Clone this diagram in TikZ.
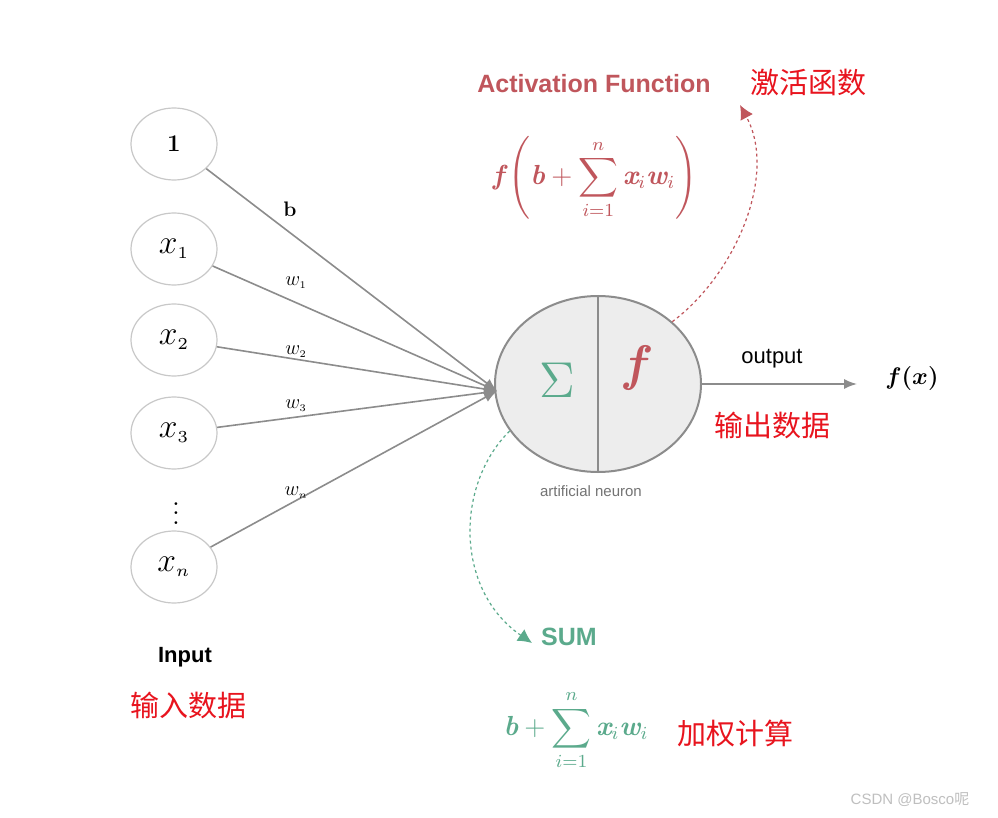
\documentclass[tikz,border=0pt]{standalone}
\usepackage{amsmath}
\usepackage{graphicx}
\usepackage{fontspec}
\newfontfamily\sansf{Liberation Sans}
\newfontfamily\cjk{Noto Sans CJK SC}
\usetikzlibrary{arrows.meta,shapes.geometric}
\newcommand\bitx[1]{\text{\bfseries\itshape #1}}
\newcommand\myscl[2]{\fontsize{12}{14}\selectfont\scalebox{#1}{#2}}
\definecolor{actred}{HTML}{C0565C}
\definecolor{sumgreen}{HTML}{5BAA8C}
\definecolor{cnred}{HTML}{E8141E}
\definecolor{edgegray}{HTML}{8C8C8C}
\definecolor{circgray}{HTML}{C8C8C8}
\tikzset{
  inp/.style={ellipse, draw=circgray, line width=1.2pt, fill=white, minimum width=86pt, minimum height=72pt, inner sep=0pt},
  wire/.style={draw=edgegray, line width=1.6pt},
  cn/.style={text=cnred, font=\cjk\fontsize{29}{30}\selectfont, inner sep=0pt},
  wlab/.style={inner sep=0pt},
  tipA/.style={-{Latex[length=13pt,width=10pt]}},
  tipB/.style={-{Latex[length=14pt,width=14pt]}},
}
\begin{document}
\begin{tikzpicture}[x=1pt,y=-1pt]
\useasboundingbox[fill=white] (0,0) rectangle (998,818);
% inputs
\node[inp] (n1) at (174,144) {\fontsize{24}{26}\selectfont\bfseries 1};
\node[inp] (x1) at (174,249) {\myscl{2.8}{$x_{\scriptscriptstyle 1}$}};
\node[inp] (x2) at (174,340) {\myscl{2.8}{$x_{\scriptscriptstyle 2}$}};
\node[inp] (x3) at (174,433) {\myscl{2.8}{$x_{\scriptscriptstyle 3}$}};
\node[inner sep=0pt] (dots) at (176,506) {\myscl{2.4}{$\boldsymbol{\vdots}$}};
\node[inp] (xn) at (174,567) {\myscl{2.8}{$x_{\scriptscriptstyle n}$}};
% neuron
\node[ellipse, draw=edgegray, line width=2pt, fill=black!7, minimum width=206pt, minimum height=176pt, inner sep=0pt] (neu) at (598,384) {};
\draw[draw=edgegray, line width=2pt] (neu.north) -- (neu.south);
\node[text=sumgreen, inner sep=0pt] (sig) at (557,380) {\myscl{4.2}{$\Sigma$}};
\node[text=actred, inner sep=0pt] (fsym) at (634,368) {\fontsize{50}{52}\selectfont\bfseries\itshape f};
\node[text=black!55, font=\sansf\fontsize{15}{16}\selectfont, inner sep=0pt] (neulab) at (591,491) {artificial neuron};
% wires
\coordinate (conv) at (497,391);
\draw[wire, tipA] (n1) -- (conv);
\draw[wire, tipA] (x1) -- (conv);
\draw[wire, tipA] (x2) -- (conv);
\draw[wire, tipA] (x3) -- (conv);
\draw[wire, tipA] (xn) -- (conv);
\node[wlab] (lb) at (290,209) {\fontsize{21}{22}\selectfont\bfseries b};
\node[wlab] (lw1) at (296,283) {\myscl{1.7}{$w_{\scriptscriptstyle 1}$}};
\node[wlab] (lw2) at (296,352) {\myscl{1.7}{$w_{\scriptscriptstyle 2}$}};
\node[wlab] (lw3) at (296,406) {\myscl{1.7}{$w_{\scriptscriptstyle 3}$}};
\node[wlab] (lwn) at (296,493) {\myscl{1.7}{$w_{\scriptscriptstyle n}$}};
% output
\node[inner sep=0pt] (fx) at (912,378) {\myscl{2}{$\boldsymbol{f(x)}$}};
\coordinate (outtip) at (857,386);
\draw[wire, tipA] (neu.east) -- (neu.east -| outtip);
\node[font=\sansf\fontsize{22}{24}\selectfont, inner sep=0pt] (outlab) at (772,359) {output};
\node[cn] (outcn) at (772,425) {输出数据};
% activation
\node[text=actred, font=\sansf\bfseries\fontsize{25}{27}\selectfont, inner sep=0pt] (act) at (594,84) {Activation Function};
\node[cn] (actcn) at (808,83) {激活函数};
\node[text=actred, inner sep=0pt] (actf) at (595,178) {\myscl{2.3}{$\displaystyle \bitx{f}\left(\bitx{b}+\sum_{i=1}^{n} \bitx{x}_{i}\bitx{w}_{i}\right)$}};
\coordinate (acttip) at (740,105);
\draw[actred, dashed, line width=1.2pt, tipB] (neu.40) .. controls (735,275) and (778,175) .. (acttip);
% sum
\coordinate (sumtip) at (532,643);
\node[text=sumgreen, font=\sansf\bfseries\fontsize{25}{27}\selectfont, inner sep=0pt, anchor=west] (sum) at (541,637) {SUM};
\draw[sumgreen, dashed, line width=1.2pt, tipB] (neu.208) .. controls (455,485) and (455,590) .. (sumtip);
\node[text=sumgreen, inner sep=0pt] (sumf) at (576,730) {\myscl{2.3}{$\displaystyle \bitx{b}+\sum_{i=1}^{n} \bitx{x}_{i}\bitx{w}_{i}$}};
\node[cn] (sumcn) at (735,733) {加权计算};
% input
\node[font=\sansf\bfseries\fontsize{22}{24}\selectfont, inner sep=0pt] (inlab) at (185,657) {Input};
\node[cn] (incn) at (188,705) {输入数据};
\node[text=black!25, font=\sansf\fontsize{15}{16}\selectfont, inner sep=0pt] (wm) at (910,800) {CSDN @Bosco{\cjk 呢}};
\end{tikzpicture}
\end{document}
